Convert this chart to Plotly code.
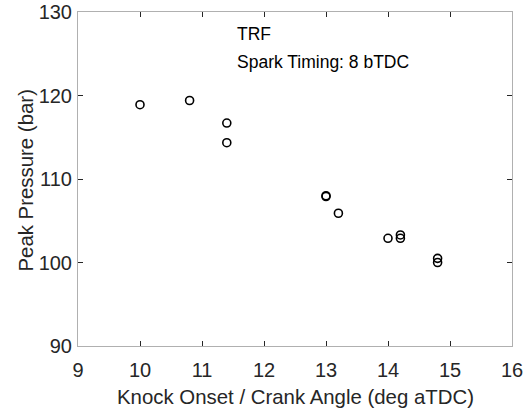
import plotly.graph_objects as go

knock_onset = [10.0, 10.8, 11.4, 11.4, 13.0, 13.0, 13.2, 14.0, 14.2, 14.2, 14.8, 14.8]
peak_pressure = [118.9, 119.4, 116.7, 114.35, 108.0, 107.9, 105.9, 102.9, 103.3, 102.9, 100.5, 100.0]
x_ticks = [9, 10, 11, 12, 13, 14, 15, 16]
y_ticks = [90, 100, 110, 120, 130]

font_family = "Liberation Sans, Arial, Helvetica, sans-serif"
axis_color = "#262626"
line_color = "#b0b0b0"

W, H = 525, 412
L, R, T, B = 77.5, 13.3, 12, 66
pw, ph = W - L - R, H - T - B


def px_to_paper(px, py):
    return (px - L) / pw, 1 - (py - T) / ph


fig = go.Figure()
fig.add_trace(go.Scatter(
    x=knock_onset, y=peak_pressure, mode="markers",
    marker=dict(symbol="circle-open", size=8, color="black", line=dict(width=1.6)),
    showlegend=False,
))

axis_common = dict(
    showline=True, linecolor=line_color, linewidth=1, mirror="ticks",
    ticks="inside", ticklen=5, tickcolor=axis_color, tickwidth=1,
    showgrid=False, zeroline=False, automargin=False,
    tickfont=dict(family=font_family, size=20, color=axis_color),
)

fig.update_xaxes(range=[9, 16], tickvals=x_ticks, ticklabelstandoff=6, **axis_common)
fig.update_yaxes(range=[90, 130], tickvals=y_ticks, ticklabelstandoff=1, **axis_common)

# axis titles
x0, y0 = px_to_paper(294.6, 397)
fig.add_annotation(x=x0, y=y0, xref="paper", yref="paper",
                   text="Knock Onset / Crank Angle (deg aTDC)", showarrow=False,
                   xanchor="center", yanchor="middle",
                   font=dict(family=font_family, size=20.4, color=axis_color))
x0, y0 = px_to_paper(25, 181)
fig.add_annotation(x=x0, y=y0, xref="paper", yref="paper",
                   text="Peak Pressure (bar)", showarrow=False, textangle=-90,
                   xanchor="center", yanchor="middle",
                   font=dict(family=font_family, size=20.4, color=axis_color))

# text labels
x0, y0 = px_to_paper(235, 34)
fig.add_annotation(x=x0, y=y0, xref="paper", yref="paper", text="TRF", showarrow=False,
                   xanchor="left", yanchor="middle",
                   font=dict(family=font_family, size=17.5, color="black"))
x0, y0 = px_to_paper(235, 62)
fig.add_annotation(x=x0, y=y0, xref="paper", yref="paper", text="Spark Timing: 8 bTDC",
                   showarrow=False, xanchor="left", yanchor="middle",
                   font=dict(family=font_family, size=17.5, color="black"))

fig.update_layout(
    width=W, height=H,
    margin=dict(l=L, r=R, t=T, b=B),
    plot_bgcolor="white", paper_bgcolor="white",
)

fig.write_html("out.html")
